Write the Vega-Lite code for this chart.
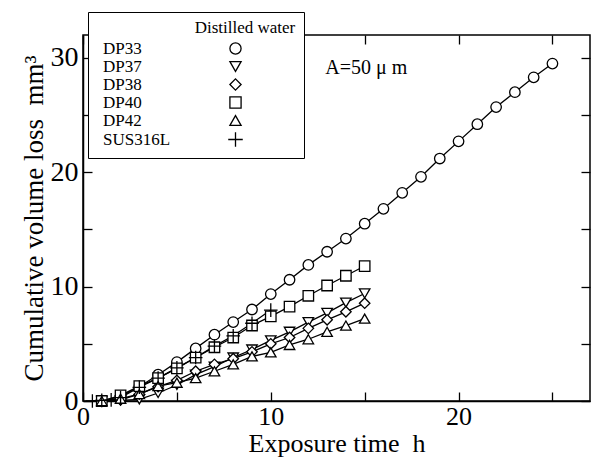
{
  "$schema": "https://vega.github.io/schema/vega-lite/v6.json",
  "width": 507,
  "height": 366,
  "autosize": {"type": "none"},
  "padding": {"left": 83, "top": 35, "right": 1, "bottom": 58},
  "background": "white",
  "config": {
    "font": "Liberation Serif",
    "view": {"stroke": "black", "strokeWidth": 1.5},
    "axis": {
      "domainColor": "black", "domainWidth": 1.5, "tickColor": "black", "tickWidth": 1.3,
      "labelFont": "Liberation Serif", "labelColor": "black", "labelFontSize": 28,
      "titleFont": "Liberation Serif", "titleColor": "black", "titleFontSize": 27, "titleFontWeight": "normal",
      "grid": false
    }
  },
  "data": {"values": [
    {"series": "DP33", "t": 1, "v": 0.0}, {"series": "DP33", "t": 2, "v": 0.4}, {"series": "DP33", "t": 3, "v": 1.25},
    {"series": "DP33", "t": 4, "v": 2.3}, {"series": "DP33", "t": 5, "v": 3.4}, {"series": "DP33", "t": 6, "v": 4.6},
    {"series": "DP33", "t": 7, "v": 5.8}, {"series": "DP33", "t": 8, "v": 6.9}, {"series": "DP33", "t": 9, "v": 8.0},
    {"series": "DP33", "t": 10, "v": 9.35}, {"series": "DP33", "t": 11, "v": 10.6}, {"series": "DP33", "t": 12, "v": 11.9},
    {"series": "DP33", "t": 13, "v": 13.05}, {"series": "DP33", "t": 14, "v": 14.2}, {"series": "DP33", "t": 15, "v": 15.5},
    {"series": "DP33", "t": 16, "v": 16.8}, {"series": "DP33", "t": 17, "v": 18.2}, {"series": "DP33", "t": 18, "v": 19.6},
    {"series": "DP33", "t": 19, "v": 21.2}, {"series": "DP33", "t": 20, "v": 22.7}, {"series": "DP33", "t": 21, "v": 24.2},
    {"series": "DP33", "t": 22, "v": 25.7}, {"series": "DP33", "t": 23, "v": 27.0}, {"series": "DP33", "t": 24, "v": 28.3},
    {"series": "DP33", "t": 25, "v": 29.5},
    {"series": "DP37", "t": 1, "v": 0.0}, {"series": "DP37", "t": 2, "v": 0.05}, {"series": "DP37", "t": 3, "v": 0.15},
    {"series": "DP37", "t": 4, "v": 0.7}, {"series": "DP37", "t": 5, "v": 1.4}, {"series": "DP37", "t": 6, "v": 2.3},
    {"series": "DP37", "t": 7, "v": 3.0}, {"series": "DP37", "t": 8, "v": 3.8}, {"series": "DP37", "t": 9, "v": 4.5},
    {"series": "DP37", "t": 10, "v": 5.3}, {"series": "DP37", "t": 11, "v": 6.05}, {"series": "DP37", "t": 12, "v": 6.9},
    {"series": "DP37", "t": 13, "v": 7.7}, {"series": "DP37", "t": 14, "v": 8.6}, {"series": "DP37", "t": 15, "v": 9.4},
    {"series": "DP38", "t": 1, "v": 0.0}, {"series": "DP38", "t": 2, "v": 0.1}, {"series": "DP38", "t": 3, "v": 0.6},
    {"series": "DP38", "t": 4, "v": 1.25}, {"series": "DP38", "t": 5, "v": 1.8}, {"series": "DP38", "t": 6, "v": 2.6},
    {"series": "DP38", "t": 7, "v": 3.2}, {"series": "DP38", "t": 8, "v": 3.7}, {"series": "DP38", "t": 9, "v": 4.3},
    {"series": "DP38", "t": 10, "v": 5.0}, {"series": "DP38", "t": 11, "v": 5.55}, {"series": "DP38", "t": 12, "v": 6.35},
    {"series": "DP38", "t": 13, "v": 7.1}, {"series": "DP38", "t": 14, "v": 7.8}, {"series": "DP38", "t": 15, "v": 8.55},
    {"series": "DP40", "t": 1, "v": 0.0}, {"series": "DP40", "t": 2, "v": 0.5}, {"series": "DP40", "t": 3, "v": 1.3},
    {"series": "DP40", "t": 4, "v": 2.0}, {"series": "DP40", "t": 5, "v": 2.85}, {"series": "DP40", "t": 6, "v": 3.8},
    {"series": "DP40", "t": 7, "v": 4.7}, {"series": "DP40", "t": 8, "v": 5.55}, {"series": "DP40", "t": 9, "v": 6.6},
    {"series": "DP40", "t": 10, "v": 7.4}, {"series": "DP40", "t": 11, "v": 8.25}, {"series": "DP40", "t": 12, "v": 9.2},
    {"series": "DP40", "t": 13, "v": 10.1}, {"series": "DP40", "t": 14, "v": 10.95}, {"series": "DP40", "t": 15, "v": 11.8},
    {"series": "DP42", "t": 1, "v": 0.0}, {"series": "DP42", "t": 2, "v": 0.2}, {"series": "DP42", "t": 3, "v": 0.6},
    {"series": "DP42", "t": 4, "v": 1.3}, {"series": "DP42", "t": 5, "v": 1.6}, {"series": "DP42", "t": 6, "v": 2.0},
    {"series": "DP42", "t": 7, "v": 2.6}, {"series": "DP42", "t": 8, "v": 3.2}, {"series": "DP42", "t": 9, "v": 3.9},
    {"series": "DP42", "t": 10, "v": 4.25}, {"series": "DP42", "t": 11, "v": 4.9}, {"series": "DP42", "t": 12, "v": 5.4},
    {"series": "DP42", "t": 13, "v": 6.05}, {"series": "DP42", "t": 14, "v": 6.6}, {"series": "DP42", "t": 15, "v": 7.2},
    {"series": "SUS316L", "t": 0.5, "v": 0.0}, {"series": "SUS316L", "t": 1, "v": 0.05}, {"series": "SUS316L", "t": 1.5, "v": 0.1},
    {"series": "SUS316L", "t": 2, "v": 0.3}, {"series": "SUS316L", "t": 3, "v": 1.2}, {"series": "SUS316L", "t": 4, "v": 2.0},
    {"series": "SUS316L", "t": 5, "v": 2.9}, {"series": "SUS316L", "t": 6, "v": 3.8}, {"series": "SUS316L", "t": 7, "v": 4.8},
    {"series": "SUS316L", "t": 8, "v": 5.7}, {"series": "SUS316L", "t": 9, "v": 6.8}, {"series": "SUS316L", "t": 10, "v": 7.95}
  ]},
  "layer": [
    {
      "mark": {"type": "line", "color": "black", "strokeWidth": 1.3},
      "encoding": {
        "x": {"field": "t", "type": "quantitative", "scale": {"domain": [0, 27], "nice": false, "zero": false},
              "axis": {"orient": "bottom", "values": [0, 10, 20], "ticks": false, "labelPadding": 2, "labelFontSize": 26,
                       "title": "Exposure time\u00a0\u00a0h", "titleFontSize": 26, "titlePadding": 1, "labelFlush": false}},
        "y": {"field": "v", "type": "quantitative", "scale": {"domain": [0, 32], "nice": false, "zero": false},
              "axis": {"orient": "left", "values": [0, 10, 20, 30], "ticks": false, "labelPadding": 5,
                       "title": "Cumulative volume loss\u00a0\u00a0mm³", "titlePadding": 2, "labelFlush": false}},
        "detail": {"field": "series", "type": "nominal"}
      }
    },
    {
      "mark": {"type": "point", "filled": true, "color": "white", "stroke": "black", "strokeWidth": 1.3, "size": 110, "opacity": 1},
      "encoding": {
        "x": {"field": "t", "type": "quantitative",
              "axis": {"orient": "top", "offset": -366, "values": [0, 5, 10, 15, 20, 25], "ticks": true, "tickSize": 9, "labels": false, "domain": false, "title": null}},
        "y": {"field": "v", "type": "quantitative",
              "axis": {"orient": "right", "offset": -507, "values": [0, 5, 10, 15, 20, 25, 30], "ticks": true, "tickSize": 9, "labels": false, "domain": false, "title": null}},
        "shape": {"field": "series", "type": "nominal",
                  "scale": {"domain": ["DP33", "DP37", "DP38", "DP40", "DP42", "SUS316L"],
                            "range": ["circle", "triangle-down", "diamond", "square", "triangle-up", "M-1.3,0H1.3M0,-1.3V1.3"]},
                  "legend": {
                    "title": "Distilled water", "titleAnchor": "end", "titleAlign": "center",
                    "orient": "none", "legendX": 5, "legendY": -23,
                    "padding": 8, "strokeColor": "black", "fillColor": "white",
                    "titleFont": "Liberation Serif", "titleFontSize": 17, "titleFontWeight": "normal", "titleColor": "black", "titlePadding": 3,
                    "labelFont": "Liberation Serif", "labelFontSize": 17, "labelColor": "black", "labelOffset": -141,
                    "symbolSize": 125, "symbolOffset": 131, "symbolStrokeWidth": 1.3,
                    "rowPadding": 0
                  }}
      }
    },
    {
      "data": {"values": [{"label": "A=50 μ m"}]},
      "mark": {"type": "text", "font": "Liberation Serif", "fontSize": 20, "align": "left", "baseline": "middle", "color": "black"},
      "encoding": {
        "x": {"datum": 12.9, "type": "quantitative",
              "axis": {"orient": "bottom", "offset": -366, "values": [0, 5, 10, 15, 20, 25], "ticks": true, "tickSize": 9, "labels": false, "domain": false, "title": null}},
        "y": {"datum": 29.1, "type": "quantitative",
              "axis": {"orient": "left", "offset": -507, "values": [0, 5, 10, 15, 20, 25, 30], "ticks": true, "tickSize": 9, "labels": false, "domain": false, "title": null}},
        "text": {"field": "label"}
      }
    }
  ],
  "resolve": {"axis": {"x": "independent", "y": "independent"}}
}
